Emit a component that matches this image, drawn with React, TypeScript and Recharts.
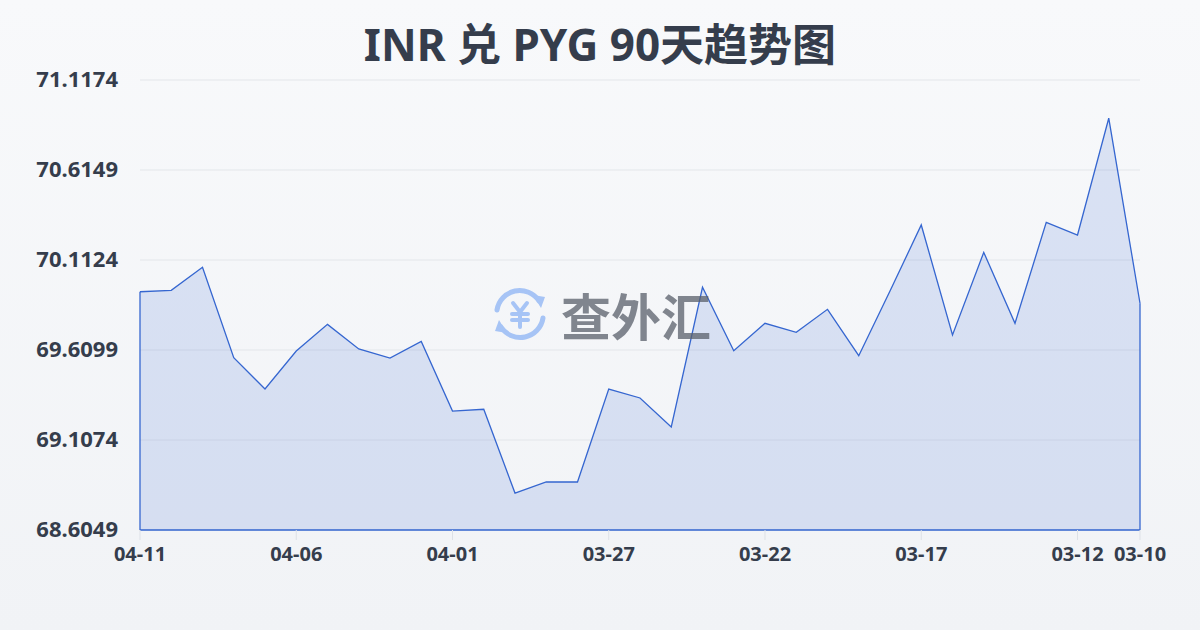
import React from 'react';
import { AreaChart, Area, XAxis, YAxis, CartesianGrid, ReferenceLine } from 'recharts';

const dates = [
  '04-11', '04-10', '04-09', '04-08', '04-07', '04-06', '04-05', '04-04', '04-03', '04-02', '04-01',
  '03-31', '03-30', '03-29', '03-28', '03-27', '03-26', '03-25', '03-24', '03-23', '03-22',
  '03-21', '03-20', '03-19', '03-18', '03-17', '03-16', '03-15', '03-14', '03-13', '03-12',
  '03-11', '03-10',
];

const rates = [
  69.935, 69.943, 70.072, 69.567, 69.392, 69.604, 69.753, 69.616, 69.565, 69.658, 69.269,
  69.279, 68.811, 68.873, 68.873, 69.392, 69.342, 69.18, 69.96, 69.606, 69.759,
  69.709, 69.837, 69.578, 69.939, 70.308, 69.694, 70.155, 69.759, 70.323, 70.252,
  70.904, 69.871,
];

const yTicks = [68.6049, 69.1074, 69.6099, 70.1124, 70.6149, 71.1174];
const xTickLabels = ['04-11', '04-06', '04-01', '03-27', '03-22', '03-17', '03-12', '03-10'];

const title = 'INR 兑 PYG 90天趋势图';

const data = dates.map((date, i) => ({ date, rate: rates[i] }));

const LINE = '#3566d0';
const TEXT = '#353d4c';
const FONT = '"Noto Sans", "Noto Sans CJK SC", sans-serif';

const YTick = (props: any) => {
  const { x, y, payload } = props;
  return (
    <text x={x - 14} y={y - 2} textAnchor="end" dominantBaseline="central"
      fontSize={22} fontWeight={700} fill={TEXT} fontFamily={FONT}>
      {payload.value.toFixed(4)}
    </text>
  );
};

const XTick = (props: any) => {
  const { x, y, payload } = props;
  return (
    <text x={x} y={y + 19} textAnchor="middle"
      fontSize={20} fontWeight={700} fill={TEXT} fontFamily={FONT}>
      {payload.value}
    </text>
  );
};

function Logo() {
  // little exchange icon next to the watermark text
  return (
    <svg width={62} height={62} viewBox="0 0 62 62">
      <g fill="none" stroke="#8db4f5" strokeWidth={5} strokeLinecap="round">
        <path d="M8 27 A23 23 0 0 1 50 18" />
        <path d="M54 35 A23 23 0 0 1 12 44" />
        <path d="M24 20 L31 29 L38 20 M31 29 L31 44 M23 31 H39 M23 37 H39" strokeWidth={4} />
      </g>
      <path d="M44 12 L56 14 L52 25 Z" fill="#8db4f5" />
      <path d="M18 50 L6 48 L10 37 Z" fill="#8db4f5" />
    </svg>
  );
}

export default function App() {
  return (
    <div style={{
      position: 'absolute', left: 0, top: 0, width: 1200, height: 630, overflow: 'hidden',
      background: 'linear-gradient(180deg, #f8f9fb 0%, #f1f3f6 100%)', fontFamily: FONT,
    }}>
      <div style={{
        position: 'absolute', top: 12, left: 0, width: 1200, textAlign: 'center',
        fontSize: 44, fontWeight: 700, color: TEXT, lineHeight: '64px',
      }}>
        {title}
      </div>

      <AreaChart width={1200} height={630} data={data}
        margin={{ top: 80, right: 60, bottom: 70, left: 0 }}>
        <CartesianGrid vertical={false} stroke="#e3e6ea" />
        <XAxis dataKey="date" ticks={xTickLabels} interval={0} tick={<XTick />} height={30}
          axisLine={{ stroke: LINE, strokeWidth: 1.3 }} tickLine={{ stroke: '#dde1e7' }} tickSize={10} />
        <YAxis width={140} domain={[yTicks[0], yTicks[yTicks.length - 1]]} ticks={yTicks}
          tick={<YTick />} axisLine={false} tickLine={false} />
        <Area type="linear" dataKey="rate" stroke={LINE} strokeWidth={1.3}
          fill={LINE} fillOpacity={0.15} isAnimationActive={false} dot={false} activeDot={false} />
        <ReferenceLine segment={[{ x: dates[0], y: yTicks[0] }, { x: dates[0], y: rates[0] }]}
          stroke={LINE} strokeWidth={1.3} />
        <ReferenceLine segment={[{ x: dates[dates.length - 1], y: yTicks[0] }, { x: dates[dates.length - 1], y: rates[rates.length - 1] }]}
          stroke={LINE} strokeWidth={1.3} />
      </AreaChart>

      <div style={{
        position: 'absolute', left: 489, top: 283, display: 'flex', alignItems: 'center',
        opacity: 0.75, pointerEvents: 'none',
      }}>
        <Logo />
        <span style={{
          marginLeft: 10, fontSize: 50, fontWeight: 700, color: '#5a606b',
          fontFamily: '"Noto Sans CJK SC", sans-serif', letterSpacing: 0, lineHeight: '60px',
        }}>查外汇</span>
      </div>
    </div>
  );
}
